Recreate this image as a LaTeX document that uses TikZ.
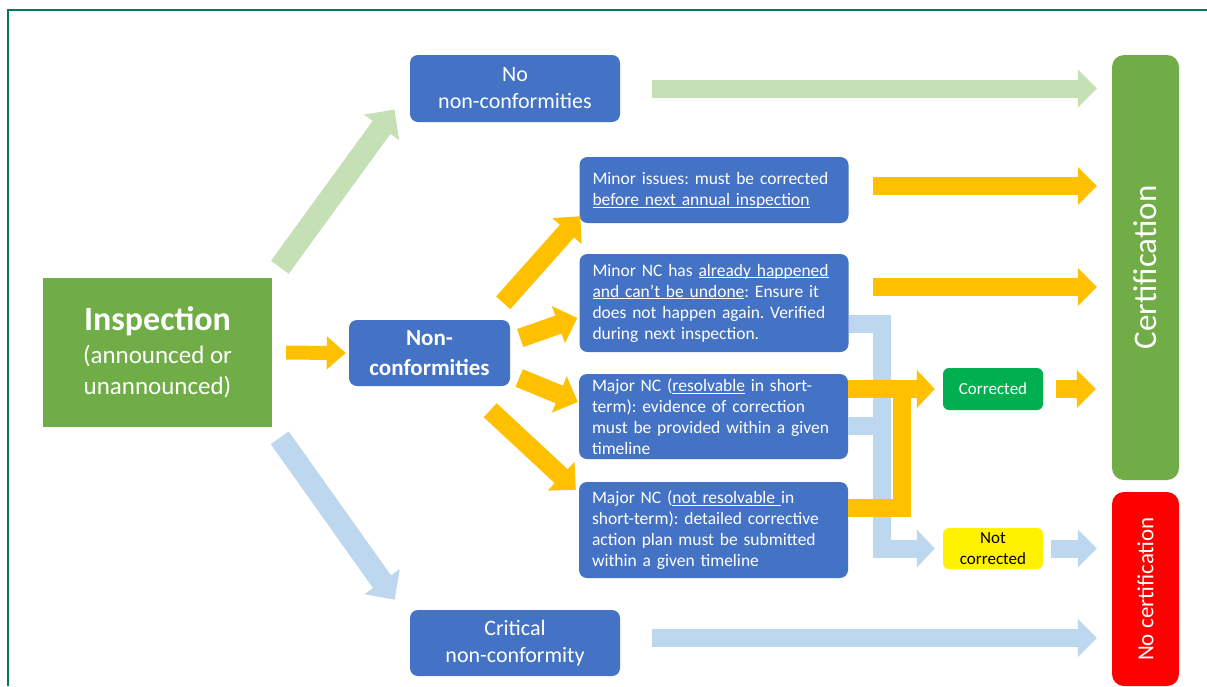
\documentclass[tikz,border=0pt]{standalone}
\usepackage{fontspec}
\setmainfont{Carlito}
\usetikzlibrary{arrows.meta}
\definecolor{boxblue}{HTML}{4472C4}
\definecolor{certgreen}{HTML}{70AD47}
\definecolor{okgreen}{HTML}{00B050}
\definecolor{arrorange}{HTML}{FFC000}
\definecolor{arrgreen}{HTML}{C5E0B4}
\definecolor{arrblue}{HTML}{BDD7EE}
\definecolor{framegreen}{HTML}{00785A}
\newcommand{\ulin}[1]{\underline{\smash{#1}}}
\frenchspacing

\begin{document}
\begin{tikzpicture}[x=1pt,y=-1pt,
        bluebox/.style={rectangle, rounded corners=8pt, fill=boxblue, text=white, inner sep=0pt, align=center},
        notebox/.style={bluebox, align=left, text width=243pt, inner xsep=13pt, font=\fontsize{17.5}{21}\selectfont},
        tagbox/.style={rectangle, rounded corners=6pt, minimum width=100pt, minimum height=42pt, inner sep=0pt, align=center, font=\fontsize{17}{21}\selectfont},
        endbox/.style={rectangle, rounded corners=12pt, rotate=90, text=white, inner sep=0pt, minimum height=67pt},
        fatarrow/.style={line width=18pt, -{Triangle[length=19pt,width=37pt]}},
        fanarrow/.style={arrorange, line width=19pt, -{Triangle[length=20pt,width=38pt]}},
        diagarrow/.style={line width=22pt, -{Triangle[length=22pt,width=42pt]}, shorten <=13pt, shorten >=26pt},
        bracket/.style={line width=18pt, line join=miter}]

                \useasboundingbox (0,0) rectangle (1207,686);
                \clip (0,0) rectangle (1207,686);
                \fill[white] (0,0) rectangle (1207,686);
                \draw[framegreen, line width=2pt] (8,686) -- (8,10) -- (1207,10);

                \node[rectangle, fill=certgreen, text=white, minimum width=229pt, minimum height=149pt, align=center,
                      font=\fontsize{25}{31}\selectfont] (insp) at (157.5,352.5)
                      {{\fontsize{34}{36}\selectfont\bfseries Inspection}\\[2pt](announced or\\unannounced)};

                \node[bluebox, minimum width=210pt, minimum height=67pt, font=\fontsize{22}{27}\selectfont] (nonc) at (515,88.5) {No\\non-conformities};
                \node[bluebox, minimum width=161pt, minimum height=66pt, font=\fontsize{23}{30}\selectfont\bfseries] (ncf) at (429.5,353) {Non-\\conformities};
                \node[bluebox, minimum width=210pt, minimum height=66pt, font=\fontsize{22}{27}\selectfont] (crit) at (515,643) {Critical\\non-conformity};

                \node[notebox, minimum height=66pt] (mi) at (714,190)
                      {Minor issues: must be corrected\\\ulin{before next annual inspection}};
                \node[notebox, minimum height=98pt] (mnc) at (714,303)
                      {Minor NC has \ulin{already happened}\\\ulin{and can’t be undone}: Ensure it\\does not happen again. Verified\\during next inspection.};
                \node[notebox, minimum height=85pt] (mres) at (713.5,416.5)
                      {Major NC (\ulin{resolvable} in short-\\term): evidence of correction\\must be provided within a given\\timeline};
                \node[notebox, minimum height=96pt] (mnot) at (713.5,530)
                      {Major NC (\ulin{not resolvable\ }in\\short-term): detailed corrective\\action plan must be submitted\\within a given timeline};

                \node[tagbox, fill=okgreen, text=white] (corr) at (993,389) {Corrected};
                \node[tagbox, fill=yellow, text=black, minimum height=41pt] (notc) at (993,548.5) {Not\\corrected};

                \node[endbox, fill=certgreen, minimum width=425pt, font=\fontsize{33}{36}\selectfont] (cert) at (1145.5,267.5) {Certification};
                \node[endbox, fill=red, minimum width=194pt, font=\fontsize{23}{26}\selectfont] (nocert) at (1145.5,589) {No certification};

                \draw[diagarrow, arrgreen] (insp.north east) -- (nonc.west);
                \draw[diagarrow, arrblue] (insp.south east) -- ([yshift=-11pt]crit.north west);
                \draw[arrorange, line width=14pt, -{Triangle[length=19pt,width=32pt]}, shorten <=14pt, shorten >=3pt] (insp.east) -- (ncf.west);

                \draw[fanarrow] ([shift={(-7pt,17pt)}]ncf.north east) -- ([shift={(1pt,7pt)}]mi.south west);
                \draw[fanarrow] ([shift={(10pt,15pt)}]ncf.east) -- ([shift={(-2pt,-15pt)}]mnc.west);
                \draw[fanarrow] ([shift={(9pt,-25pt)}]ncf.east) -- ([shift={(-1pt,14.5pt)}]mres.west);
                \draw[fanarrow] ([shift={(-20pt,-24pt)}]ncf.south east) -- ([shift={(-3pt,-8pt)}]mnot.north west);

                \draw[bracket, arrblue, -{Triangle[length=18pt,width=37pt]}, shorten >=8pt] ([yshift=-21pt]mnc.east) -- ++(33,0) |- (notc.west);
                \draw[bracket, arrblue] ([yshift=-9.5pt]mres.east) -- ++(33,0);
                \draw[bracket, arrorange] ([yshift=22pt]mnot.east) -- ++(54,0) -- ++(0,-119);
                \draw[bracket, arrorange, -{Triangle[length=18pt,width=37pt]}, shorten >=8pt] (corr.west -| mres.east) -- (corr.west);

                \draw[fatarrow, arrgreen, shorten <=32pt, shorten >=15pt] (nonc.east) -- (nonc.east -| cert.north);
                \draw[fatarrow, arrorange, shorten <=24pt, shorten >=15pt] ([yshift=4pt]mi.east) -- ([yshift=4pt]mi.east -| cert.north);
                \draw[fatarrow, arrorange, shorten <=24pt, shorten >=15pt] ([yshift=16pt]mnc.east) -- ([yshift=16pt]mnc.east -| cert.north);
                \draw[fatarrow, arrorange, shorten <=13pt, shorten >=16pt] (corr.east) -- (corr.east -| cert.north);
                \draw[fatarrow, arrblue, shorten <=8pt, shorten >=15pt] (notc.east) -- (notc.east -| nocert.north);
                \draw[fatarrow, arrblue, shorten <=32pt, shorten >=15pt] ([yshift=5pt]crit.east) -- ([yshift=5pt]crit.east -| nocert.north);

\end{tikzpicture}
\end{document}
